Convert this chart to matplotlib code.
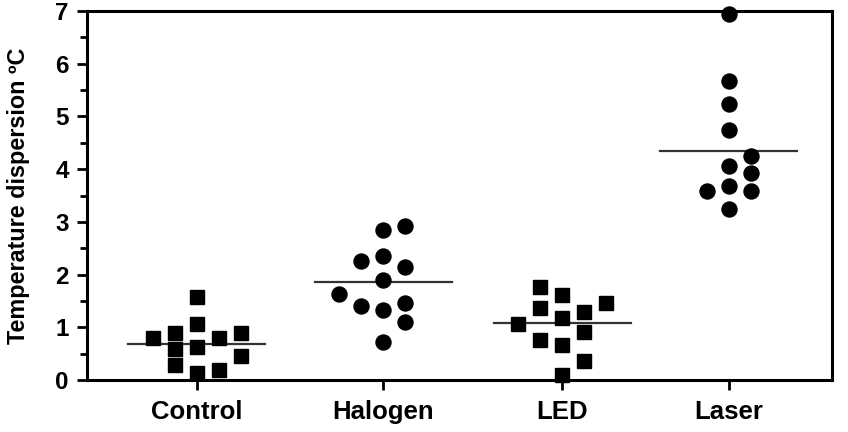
import matplotlib.pyplot as plt
from matplotlib.ticker import MultipleLocator

# datos, agrupados por columna de la nube de puntos
categorias = ["Control", "Halogen", "LED", "Laser"]
control = {-2: [0.80], -1: [0.89, 0.59, 0.29], 0: [1.57, 1.06, 0.63, 0.13],
           1: [0.80, 0.20], 2: [0.89, 0.46]}
halogen = {-2: [1.63], -1: [2.26, 1.41], 0: [2.85, 2.36, 1.89, 1.33, 0.72],
           1: [2.93, 2.15, 1.47, 1.11]}
led = {-2: [1.06], -1: [1.77, 1.37, 0.77], 0: [1.62, 1.17, 0.67, 0.10],
       1: [1.29, 0.92, 0.36], 2: [1.46]}
laser = {-1: [3.58], 0: [6.94, 5.67, 5.23, 4.75, 4.07, 3.69, 3.25],
         1: [4.26, 3.92, 3.58]}
medias = [0.68, 1.87, 1.08, 4.34]

grupos = [control, halogen, led, laser]
marcadores = ["s", "o", "s", "o"]
pos_x = [0, 1.02, 2.0, 2.91]
paso = 0.12

fig = plt.figure(figsize=(8.48, 4.32), dpi=100)
ax = fig.add_axes([0.1026, 0.12, 0.8785, 0.8545])

for x0, grupo, m, media in zip(pos_x, grupos, marcadores, medias):
    for col, vals in grupo.items():
        ax.plot([x0 + col * paso] * len(vals), vals, linestyle="none",
                marker=m, markersize=10.8 if m == "o" else 10,
                color="black", clip_on=False, zorder=3)
    ax.plot([x0 - 0.375, x0 + 0.375], [media, media], color="#333333",
            linewidth=1.6, zorder=2)

ax.set_xlim(-0.60, 3.475)
ax.set_ylim(0, 7)
ax.set_xticks(pos_x)
ax.set_xticklabels(categorias, fontsize=18.5, fontweight="bold",
                   family="Liberation Sans")
ax.yaxis.set_major_locator(MultipleLocator(1))
ax.yaxis.set_minor_locator(MultipleLocator(0.5))
for lab in ax.get_yticklabels():
    lab.set_fontsize(17.5)
    lab.set_fontweight("bold")
    lab.set_family("Liberation Sans")
ax.tick_params(axis="both", which="major", length=7, width=2, direction="out")
ax.tick_params(axis="y", which="minor", length=5, width=2, direction="out")
ax.tick_params(axis="x", pad=7)
ax.tick_params(axis="y", pad=6)
for s in ax.spines.values():
    s.set_linewidth(2.2)

ax.set_ylabel("Temperature dispersion ºC", fontsize=16.8, fontweight="bold",
              family="Liberation Sans", labelpad=18)

fig.savefig("out.png", dpi=100)
